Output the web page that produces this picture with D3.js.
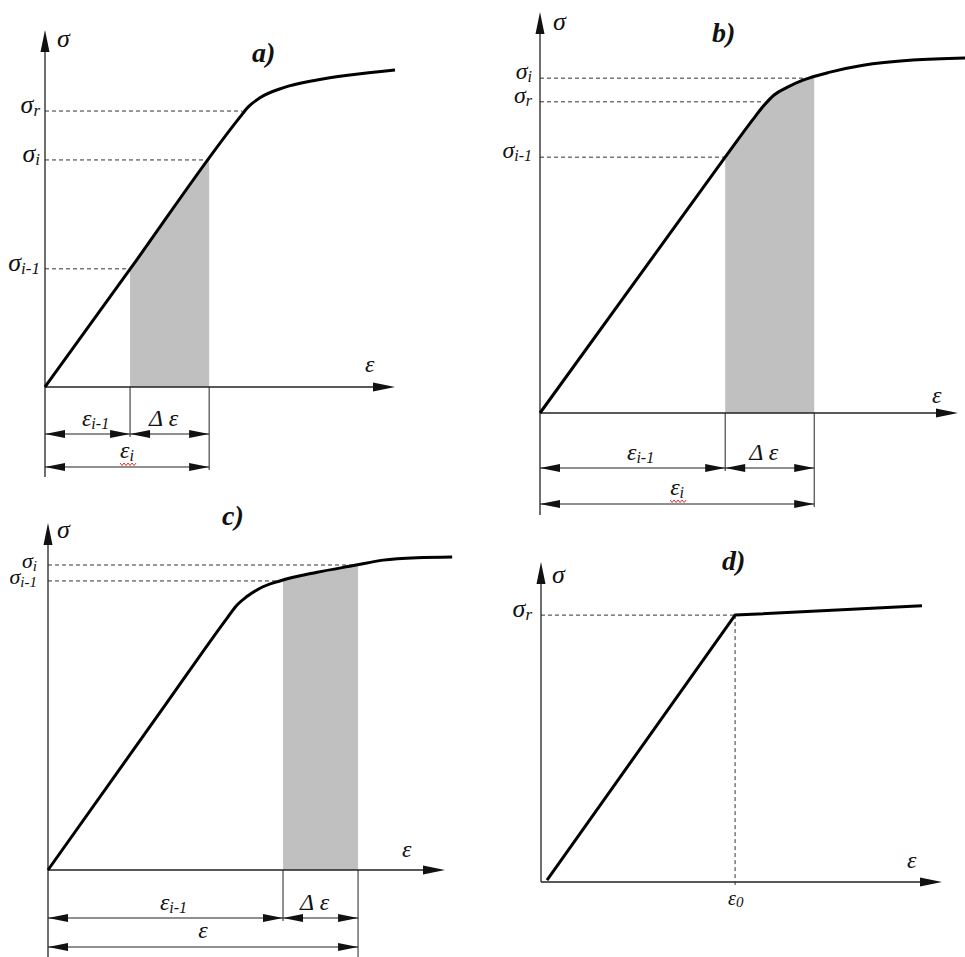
<!DOCTYPE html>
<html>
<head>
<meta charset="utf-8">
<script src="https://cdn.jsdelivr.net/npm/d3@7"></script>
<style>
body { margin: 0; background: #fff; }
svg { display: block; }
text { font-family: "Liberation Serif", "Times New Roman", serif; font-style: italic; fill: #111; }
</style>
</head>
<body>
<svg id="chart" width="965" height="957"></svg>
<script>
// stress-strain curves, both axes in relative units 0..10 (axis length = 10)
var curveA = [[0, 0], [2.43, 3.30], [5.57, 7.56], [5.8, 7.84], [6.14, 8.1], [6.8, 8.38], [7.77, 8.6], [8.71, 8.74], [10, 8.88]];
var curveB = [[0, 0], [4.43, 6.38], [5.1, 7.33], [5.35, 7.66], [5.6, 7.93], [5.91, 8.12], [6.29, 8.3], [6.94, 8.5], [7.73, 8.67], [8.92, 8.8], [10.17, 8.85]];
var curveC = [[0, 0], [3.0, 4.83], [4.53, 7.29], [4.74, 7.61], [5.01, 7.88], [5.34, 8.12], [5.84, 8.33], [6.78, 8.58], [7.73, 8.78], [8.44, 8.93], [9.29, 9.0], [10.18, 9.02]];
var curveD = [[0.15, 0.06], [4.84, 8.34], [9.5, 8.63]];

// stress levels marked on the sigma axis
var subsA = ["r", "i", "i-1"];
var levelsA = [7.73, 6.36, 3.31];
var endsA = [5.63, 4.69, 2.43];
var subsB = ["i", "r", "i-1"];
var levelsB = [8.35, 7.76, 6.38];
var endsB = [6.29, 5.33, 4.43];
var subsC = ["i", "i-1"];
var levelsC = [8.79, 8.33];
var endsC = [7.73, 5.84];
var subsD = ["r"];
var levelsD = [8.34];
var endsD = [4.84];

// strain steps (eps_i-1, eps_i) bounding the shaded increment
var strainsA = [2.43, 4.69];
var strainsB = [4.43, 6.56];
var strainsC = [5.92, 7.81];
var strainsD = [4.84];

// dimension labels: [main, subscript]
var rowLabelsABC = [["ε", "i-1"], ["Δ ε", ""]];
var totalLabels = [["ε", "i"], ["ε", "i"], ["ε", ""]];

var titles = ["a)", "b)", "c)", "d)"];

var svg = d3.select("#chart");

var panels = [
  { title: titles[0], curve: curveA, subs: subsA, levels: levelsA, ends: endsA, strains: strainsA, total: totalLabels[0], smooth: true,
    ox: 45, oy: 387, xEnd: 395, yTop: 30, yBottom: 477, row1: 434, row2: 467, tick2: 470, labOff: 5, wavy: true,
    lab: 26, labSub: 17, labDy: 2, sigma: [57, 47], eps: [365, 372], tpos: [252, 62] },
  { title: titles[1], curve: curveB, subs: subsB, levels: levelsB, ends: endsB, strains: strainsB, total: totalLabels[1], smooth: true,
    ox: 540, oy: 413, xEnd: 958, yTop: 12, yBottom: 515, row1: 468, row2: 504, tick2: 507, labOff: 8, wavy: true,
    lab: 24, labSub: 16, labDy: 1, sigma: [553, 30], eps: [932, 403], tpos: [712, 42] },
  { title: titles[2], curve: curveC, subs: subsC, levels: levelsC, ends: endsC, strains: strainsC, total: totalLabels[2], smooth: true,
    ox: 48, oy: 870, xEnd: 445, yTop: 523, yBottom: 957, row1: 918, row2: 947, tick2: 957, labOff: 11, wavy: false,
    lab: 22, labSub: 15, labDy: 3, sigma: [57, 538], eps: [402, 857], tpos: [222, 525] },
  { title: titles[3], curve: curveD, subs: subsD, levels: levelsD, ends: endsD, strains: strainsD, total: null, smooth: false,
    ox: 541, oy: 882, xEnd: 942, yTop: 562, yBottom: 882, labOff: 9,
    lab: 26, labSub: 17, labDy: 2, sigma: [552, 583], eps: [907, 868], tpos: [722, 570] }
];

function arrowHead(g, tipX, tipY, dx, dy, len, half) {
  var bx = tipX - dx * len, by = tipY - dy * len;
  var px = -dy * half, py = dx * half;
  g.append("path")
    .attr("d", "M" + tipX + "," + tipY + "L" + (bx + px) + "," + (by + py) + "L" + (bx - px) + "," + (by - py) + "Z")
    .attr("fill", "#111");
}

function symbol(g, x, y, main, sub, size, subSize, anchor) {
  var t = g.append("text")
    .attr("x", x).attr("y", y)
    .attr("font-size", size)
    .attr("text-anchor", anchor || "start");
  t.append("tspan").text(main);
  if (sub) {
    t.append("tspan").attr("dy", size * 0.12).attr("font-size", subSize).text(sub);
  }
  return t;
}

function dimArrow(g, x1, x2, yy) {
  g.append("line").attr("x1", x1).attr("x2", x2).attr("y1", yy).attr("y2", yy)
    .attr("stroke", "#222").attr("stroke-width", 1.2);
  arrowHead(g, x1, yy, -1, 0, 20, 4);
  arrowHead(g, x2, yy, 1, 0, 20, 4);
}

panels.forEach(function (p, idx) {
  var g = svg.append("g");
  var x = d3.scaleLinear().domain([0, 10]).range([p.ox, p.xEnd]);
  var y = d3.scaleLinear().domain([0, 10]).range([p.oy, p.yTop]);

  var curveType = p.smooth ? d3.curveMonotoneX : d3.curveLinear;
  var line = d3.line().x(function (d) { return x(d[0]); }).y(function (d) { return y(d[1]); }).curve(curveType);

  // shaded strain increment, clipped to the area under the curve
  if (p.strains.length == 2) {
    var area = d3.area().x(function (d) { return x(d[0]); }).y0(y(0)).y1(function (d) { return y(d[1]); }).curve(curveType);
    g.append("clipPath").attr("id", "under" + idx)
      .append("path").attr("d", area(p.curve));
    g.append("rect")
      .attr("x", x(p.strains[0])).attr("width", x(p.strains[1]) - x(p.strains[0]))
      .attr("y", y(10)).attr("height", y(0) - y(10))
      .attr("fill", "#c0c0c0")
      .attr("clip-path", "url(#under" + idx + ")");
  }

  // dashed guides to the sigma axis
  p.levels.forEach(function (lv, i) {
    g.append("line")
      .attr("x1", x(0)).attr("x2", x(p.ends[i]))
      .attr("y1", y(lv)).attr("y2", y(lv))
      .attr("stroke", "#333").attr("stroke-width", 1).attr("stroke-dasharray", "4,3");
    symbol(g, x(0) - p.labOff, y(lv) + p.labDy, "σ", p.subs[i], p.lab, p.labSub, "end");
  });

  // axes with arrow tips
  g.append("line").attr("x1", p.ox).attr("x2", p.ox).attr("y1", p.yTop + 10).attr("y2", p.yBottom)
    .attr("stroke", "#222").attr("stroke-width", 1.3);
  arrowHead(g, p.ox, p.yTop, 0, -1, 22, 4.5);
  g.append("line").attr("x1", p.ox).attr("x2", p.xEnd - 10).attr("y1", p.oy).attr("y2", p.oy)
    .attr("stroke", "#222").attr("stroke-width", 1.3);
  arrowHead(g, p.xEnd, p.oy, 1, 0, 22, 4.5);

  if (p.strains.length == 2) {
    var s1 = x(p.strains[0]), s2 = x(p.strains[1]);
    g.append("line").attr("x1", s1).attr("x2", s1).attr("y1", p.oy).attr("y2", p.row1 + 3)
      .attr("stroke", "#222").attr("stroke-width", 1);
    g.append("line").attr("x1", s2).attr("x2", s2).attr("y1", p.oy).attr("y2", p.tick2)
      .attr("stroke", "#222").attr("stroke-width", 1);
    dimArrow(g, x(0), s1, p.row1);
    dimArrow(g, s1, s2, p.row1);
    dimArrow(g, x(0), s2, p.row2);
    symbol(g, (x(0) + s1) / 2 + 8, p.row1 - 8, rowLabelsABC[0][0], rowLabelsABC[0][1], 24, 16, "middle");
    symbol(g, (s1 + s2) / 2 - 6, p.row1 - 8, rowLabelsABC[1][0], rowLabelsABC[1][1], 24, 16, "middle");
    var cx = (x(0) + s2) / 2;
    symbol(g, cx, p.row2 - 9, p.total[0], p.total[1], 24, 16, "middle");
    if (p.wavy) {
      var wy = p.row2 - 3, pts = [];
      for (var k = 0; k <= 8; k++) pts.push([cx - 7 + k * 2, wy + (k % 2 ? 1.5 : -1)]);
      g.append("path").attr("d", d3.line()(pts)).attr("fill", "none").attr("stroke", "#e03030").attr("stroke-width", 1);
    }
  } else {
    var e0 = x(p.strains[0]);
    g.append("line").attr("x1", e0).attr("x2", e0).attr("y1", y(p.levels[0])).attr("y2", p.oy + 3)
      .attr("stroke", "#333").attr("stroke-width", 1).attr("stroke-dasharray", "4,3");
    symbol(g, e0 - 7, p.oy + 23, "ε", "0", 20, 15, "start");
  }

  // the curve itself
  g.append("path").attr("d", line(p.curve))
    .attr("fill", "none").attr("stroke", "#000").attr("stroke-width", 3).attr("stroke-linejoin", "round");

  // axis names and panel letter
  symbol(g, p.sigma[0], p.sigma[1], "σ", "", 26, 0, "start");
  symbol(g, p.eps[0], p.eps[1], "ε", "", 24, 0, "start");
  g.append("text").attr("x", p.tpos[0]).attr("y", p.tpos[1])
    .attr("font-size", 28).attr("font-weight", "bold").text(p.title);
});
</script>
</body>
</html>
